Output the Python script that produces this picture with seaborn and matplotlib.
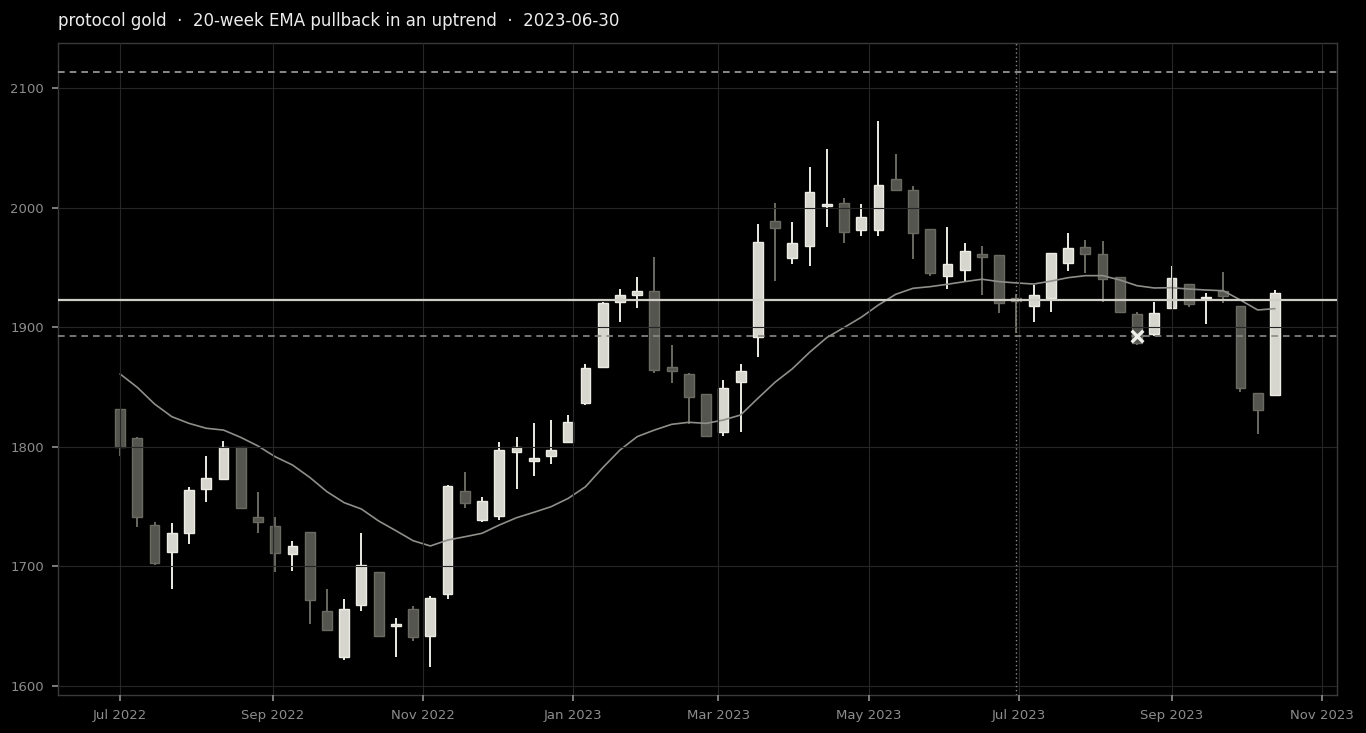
import numpy as np
import pandas as pd
import matplotlib
matplotlib.use("Agg")
import matplotlib.pyplot as plt
import matplotlib.dates as mdates
import seaborn as sns

# ===============================
# Weekly candles
# ===============================
weeks = pd.date_range("2022-07-01", periods=68, freq="W-FRI")

opens = [1832, 1807, 1735, 1712, 1728, 1765, 1773, 1800, 1741, 1734,
         1710, 1729, 1663, 1624, 1668, 1695, 1650, 1664, 1642, 1677,
         1763, 1739, 1742, 1796, 1788, 1792, 1804, 1837, 1867, 1921,
         1927, 1930, 1867, 1861, 1844, 1812, 1854, 1892, 1989, 1958,
         1968, 2001, 2004, 1981, 1981, 2024, 2015, 1982, 1943, 1948,
         1961, 1960, 1924, 1918, 1924, 1954, 1967, 1961, 1942, 1911,
         1894, 1916, 1936, 1924, 1930, 1918, 1845, 1843]
highs = [1832, 1808, 1737, 1736, 1766, 1792, 1805, 1800, 1762, 1741,
         1721, 1729, 1681, 1673, 1728, 1695, 1657, 1667, 1675, 1768,
         1779, 1758, 1804, 1808, 1820, 1822, 1827, 1869, 1921, 1932,
         1942, 1959, 1885, 1862, 1844, 1856, 1869, 1986, 2004, 1988,
         2034, 2049, 2008, 2003, 2072, 2045, 2018, 1982, 1984, 1970,
         1968, 1960, 1928, 1935, 1962, 1979, 1973, 1972, 1942, 1913,
         1921, 1951, 1936, 1929, 1946, 1918, 1845, 1931]
lows = [1792, 1733, 1701, 1681, 1719, 1754, 1772, 1748, 1728, 1695,
        1696, 1652, 1646, 1622, 1663, 1641, 1624, 1638, 1616, 1673,
        1749, 1737, 1739, 1765, 1776, 1786, 1803, 1835, 1866, 1904,
        1916, 1862, 1853, 1819, 1809, 1809, 1812, 1875, 1939, 1953,
        1951, 1984, 1970, 1976, 1976, 2014, 1957, 1943, 1932, 1938,
        1927, 1912, 1895, 1904, 1913, 1947, 1945, 1921, 1912, 1885,
        1893, 1915, 1917, 1903, 1920, 1846, 1811, 1843]
closes = [1800, 1741, 1703, 1728, 1764, 1774, 1800, 1749, 1737, 1711,
          1717, 1672, 1647, 1664, 1701, 1642, 1652, 1641, 1674, 1767,
          1753, 1755, 1797, 1800, 1791, 1797, 1821, 1866, 1920, 1927,
          1930, 1864, 1863, 1842, 1809, 1849, 1863, 1971, 1983, 1970,
          2013, 2003, 1980, 1992, 2019, 2015, 1979, 1945, 1953, 1964,
          1959, 1920, 1922, 1927, 1962, 1966, 1961, 1940, 1913, 1887,
          1912, 1941, 1919, 1925, 1926, 1849, 1831, 1929]

ema20 = [1860.9, 1849.7, 1835.8, 1825.2, 1819.6, 1815.5, 1814.0, 1807.9, 1800.7, 1791.7,
         1784.8, 1774.5, 1762.5, 1753.3, 1748.0, 1738.0, 1729.9, 1721.5, 1717.1, 1722.0,
         1724.8, 1727.7, 1734.6, 1740.7, 1745.2, 1749.9, 1756.9, 1766.6, 1782.5, 1797.3,
         1808.5, 1814.0, 1818.8, 1820.5, 1819.6, 1822.4, 1826.6, 1840.5, 1854.0, 1865.2,
         1879.0, 1891.3, 1899.7, 1908.3, 1918.6, 1927.5, 1932.5, 1933.9, 1935.9, 1938.1,
         1940.1, 1938.1, 1937.0, 1936.1, 1938.5, 1941.4, 1943.1, 1943.1, 1939.5, 1934.7,
         1932.8, 1933.0, 1931.9, 1931.1, 1930.5, 1922.7, 1914.4, 1915.5]

# reference levels
ema_level = 1922.7
stop_level = 1892.6
target_level = 2113.4
signal_date = pd.Timestamp("2023-06-30")
exit_date = pd.Timestamp("2023-08-18")
exit_price = 1892.6

title = "protocol gold  \u00b7  20-week EMA pullback in an uptrend  \u00b7  2023-06-30"

# ===============================
# Style
# ===============================
sns.set_theme(style="dark", rc={
    "figure.facecolor": "black",
    "axes.facecolor": "black",
    "axes.edgecolor": "#3a3a3a",
    "axes.linewidth": 1.0,
    "grid.color": "#262626",
    "grid.linewidth": 0.8,
    "xtick.color": "#8c8c8c",
    "ytick.color": "#8c8c8c",
    "xtick.labelcolor": "#8c8c8c",
    "ytick.labelcolor": "#8c8c8c",
    "xtick.bottom": True,
    "ytick.left": True,
    "xtick.major.size": 4,
    "ytick.major.size": 4,
    "xtick.labelsize": 9.5,
    "ytick.labelsize": 9.5,
})
plt.rcParams["font.family"] = ["DejaVu Sans"]

fig = plt.figure(figsize=(13.66, 7.33), dpi=100)
ax = fig.add_axes([58 / 1366, 38 / 733, (1337 - 58) / 1366, (695 - 43) / 733])

df = pd.DataFrame({"week": weeks, "open": opens, "high": highs,
                   "low": lows, "close": closes, "ema": ema20})
df["up"] = df["close"] >= df["open"]

bull_fill, bull_edge = "#d6d6ce", "#ececE4"
bear_fill, bear_edge = "#55554f", "#6a6a63"

body_w = 4.0

for up, fill, edge in [(True, bull_fill, bull_edge), (False, bear_fill, bear_edge)]:
    sub = df[df["up"] == up]
    xs = mdates.date2num(sub["week"])
    ax.vlines(xs, sub["low"], sub["high"], color=edge, linewidth=1.4, zorder=1)
    bottoms = np.minimum(sub["open"], sub["close"])
    heights = np.maximum(np.abs(sub["close"] - sub["open"]), 0.8)
    ax.bar(xs, heights, bottom=bottoms, width=body_w, color=fill,
           edgecolor=edge, linewidth=1.0, zorder=1.5)

sns.lineplot(data=df, x="week", y="ema", ax=ax, color="#8e8e8a",
             linewidth=1.2, zorder=2)

ax.axhline(ema_level, color="#cfcfc8", linewidth=1.6, zorder=3)
ax.axhline(stop_level, color="#8a8a86", linewidth=1.2, linestyle=(0, (4, 3)), zorder=3)
ax.axhline(target_level, color="#a0a09c", linewidth=1.2, linestyle=(0, (4, 3)), zorder=3)
ax.axvline(signal_date, color="#8a8a86", linewidth=1.0, linestyle=(0, (1, 2)), zorder=3)

sns.scatterplot(x=[exit_date], y=[exit_price], ax=ax, marker="x", s=70,
                color="#eeeeea", linewidth=2.4, zorder=4)

# ===============================
# Axes
# ===============================
ax.set_axisbelow(False)
ax.grid(True, axis="both")
ax.set_xlim(mdates.date2num(pd.Timestamp("2022-06-05 19:00")),
            mdates.date2num(pd.Timestamp("2023-11-07 05:00")))
ax.set_ylim(1592.5, 2137.6)
ax.set_yticks([1600, 1700, 1800, 1900, 2000, 2100])
ax.xaxis.set_major_locator(mdates.MonthLocator(bymonth=[1, 3, 5, 7, 9, 11]))
ax.xaxis.set_major_formatter(mdates.DateFormatter("%b %Y"))
ax.set_xlabel("")
ax.set_ylabel("")
for s in ax.spines.values():
    s.set_color("#3a3a3a")
ax.tick_params(colors="#8c8c8c", pad=6)

ax.set_title(title, loc="left", color="#ececec", fontsize=12, pad=12)

fig.savefig("out.png", dpi=100, facecolor="black")
